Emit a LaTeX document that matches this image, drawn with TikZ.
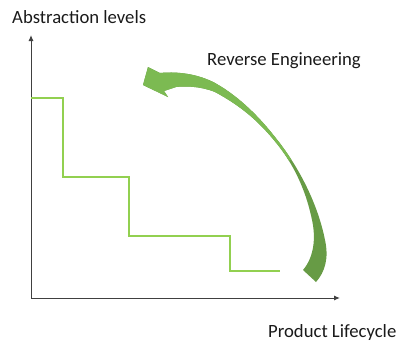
\documentclass[tikz,border=0pt]{standalone}
\usepackage{fontspec}
\setmainfont{Carlito}
\usetikzlibrary{arrows.meta}
\definecolor{axisgray}{HTML}{404040}
\definecolor{stepgreen}{HTML}{92D050}
\definecolor{arrowlight}{HTML}{7CBA52}
\definecolor{arrowdark}{HTML}{679B45}
\definecolor{txt}{HTML}{1A1A1A}
\tikzset{
  axis/.style={draw=axisgray, line width=1pt, -{Latex[length=6pt,width=5pt]}},
  stepline/.style={draw=stepgreen, line width=2pt},
  lbl/.style={inner sep=0pt, anchor=base west, text=txt, font=\fontsize{18.7}{22}\selectfont},
}
\begin{document}
\begin{tikzpicture}[x=1pt,y=-1pt]
\useasboundingbox (0,0) rectangle (398,343);
% axes
\coordinate (O) at (31,298);
\coordinate (ytop) at (31,35);
\coordinate (xend) at (340,298);
\draw[axis] (O) -- (ytop);
\draw[axis] (O) -- (xend);
% labels
\node[lbl] (ylab) at (12,23) {Abstraction levels};
\node[lbl] (re) at (207,65) {Reverse Engineering};
\node[lbl] (xlab) at (268,337) {Product Lifecycle};
% step line
\draw[stepline] (31,98) -- (63,98) -- (63,177) -- (129,177) -- (129,236) -- (230,236) -- (230,271) -- (280,271);
% curved arrow
\def\arrowpath{(143,85) -- (148,67) -- (160,73)
  .. controls (180,71) and (200,75) .. (215,83)
  .. controls (240,97) and (260,118) .. (275,137)
  .. controls (300,168) and (318,205) .. (325,240)
  .. controls (329,258) and (325,272) .. (316,282)
  -- (303,270)
  .. controls (314,257) and (316,238) .. (312,220)
  .. controls (305,186) and (291,160) .. (273,139)
  .. controls (258,121) and (241,106) .. (215,92)
  .. controls (200,86) and (185,86) .. (176,87)
  -- (164,91) -- (168,97) -- cycle}
\fill[arrowdark] \arrowpath;
\begin{scope}
\clip (130,40) -- (300,40) -- (300,155) -- (260,175) -- (130,175) -- cycle;
\fill[arrowlight] \arrowpath;
\end{scope}
\end{tikzpicture}
\end{document}
